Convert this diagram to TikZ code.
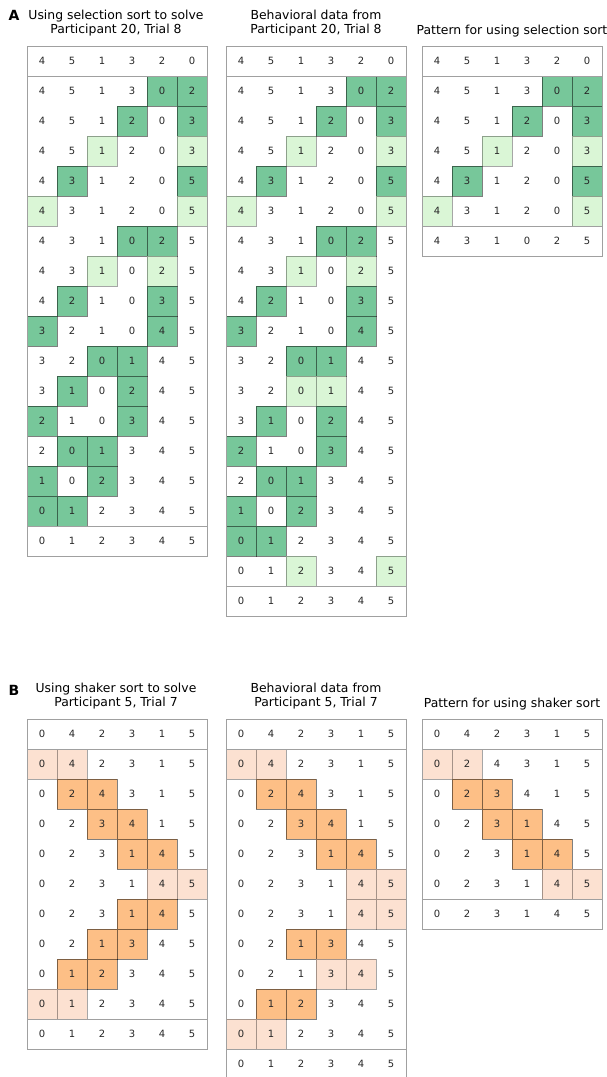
\documentclass[tikz,border=0pt]{standalone}
\usepackage{fontspec}
\setmainfont{DejaVu Sans}
\definecolor{grndark}{HTML}{77C79A}
\definecolor{grnlight}{HTML}{DAF6D6}
\definecolor{orgdark}{HTML}{FDBF86}
\definecolor{orglight}{HTML}{FCE1D1}
\definecolor{framegray}{HTML}{A0A0A0}

% one column of sorting steps: name, left x, top y, number of rows, rows
\newcommand{\sortgrid}[5]{%
  \foreach \row [count=\r from 0] in {#5} {
    \foreach \v/\k [count=\c from 0] in \row {
      \node[cell, \k, name=#1-\r-\c] at (#2+30*\c+15, #3+30*\r+15) {\v};
    }
  }
  \draw[frame] (#2,#3) rectangle (#2+180,#3+30*#4);
  \draw[frame] (#2,#3+30) -- (#2+180,#3+30);
  \draw[frame] (#2,#3+30*#4-30) -- (#2+180,#3+30*#4-30);
}

\begin{document}
\begin{tikzpicture}[
    x=1pt, y=-1pt,
    cell/.style={minimum width=30pt, minimum height=30pt, inner sep=0pt,
                 font=\fontsize{10}{12}\selectfont, text=black!85},
    wc/.style={},
    gd/.style={fill=grndark, draw=black, draw opacity=0.5, line width=0.8pt},
    gl/.style={fill=grnlight, draw=black, draw opacity=0.35, line width=0.8pt},
    od/.style={fill=orgdark, draw=black, draw opacity=0.5, line width=0.8pt},
    ol/.style={fill=orglight, draw=black, draw opacity=0.35, line width=0.8pt},
    frame/.style={draw=framegray, line width=0.9pt},
    title/.style={align=center, font=\fontsize{12.4}{14}\selectfont},
    panel/.style={font=\fontsize{14}{16}\selectfont\bfseries}
  ]
  \useasboundingbox (0,0) rectangle (607,1077);
  \clip (0,0) rectangle (607,1077);

  % A: selection sort
  \node[panel] (labA) at (14,15) {A};
  \node[title] (tsl) at (116,23) {Using selection sort to solve\\Participant 20, Trial 8};
  \node[title] (tbl) at (316,23) {Behavioral data from\\Participant 20, Trial 8};
  \node[title] (tpl) at (512,31) {Pattern for using selection sort};

  \sortgrid{sl}{27}{46}{17}{
    {4/wc,5/wc,1/wc,3/wc,2/wc,0/wc},
    {4/wc,5/wc,1/wc,3/wc,0/gd,2/gd},
    {4/wc,5/wc,1/wc,2/gd,0/wc,3/gd},
    {4/wc,5/wc,1/gl,2/wc,0/wc,3/gl},
    {4/wc,3/gd,1/wc,2/wc,0/wc,5/gd},
    {4/gl,3/wc,1/wc,2/wc,0/wc,5/gl},
    {4/wc,3/wc,1/wc,0/gd,2/gd,5/wc},
    {4/wc,3/wc,1/gl,0/wc,2/gl,5/wc},
    {4/wc,2/gd,1/wc,0/wc,3/gd,5/wc},
    {3/gd,2/wc,1/wc,0/wc,4/gd,5/wc},
    {3/wc,2/wc,0/gd,1/gd,4/wc,5/wc},
    {3/wc,1/gd,0/wc,2/gd,4/wc,5/wc},
    {2/gd,1/wc,0/wc,3/gd,4/wc,5/wc},
    {2/wc,0/gd,1/gd,3/wc,4/wc,5/wc},
    {1/gd,0/wc,2/gd,3/wc,4/wc,5/wc},
    {0/gd,1/gd,2/wc,3/wc,4/wc,5/wc},
    {0/wc,1/wc,2/wc,3/wc,4/wc,5/wc}}

  \sortgrid{bl}{226}{46}{19}{
    {4/wc,5/wc,1/wc,3/wc,2/wc,0/wc},
    {4/wc,5/wc,1/wc,3/wc,0/gd,2/gd},
    {4/wc,5/wc,1/wc,2/gd,0/wc,3/gd},
    {4/wc,5/wc,1/gl,2/wc,0/wc,3/gl},
    {4/wc,3/gd,1/wc,2/wc,0/wc,5/gd},
    {4/gl,3/wc,1/wc,2/wc,0/wc,5/gl},
    {4/wc,3/wc,1/wc,0/gd,2/gd,5/wc},
    {4/wc,3/wc,1/gl,0/wc,2/gl,5/wc},
    {4/wc,2/gd,1/wc,0/wc,3/gd,5/wc},
    {3/gd,2/wc,1/wc,0/wc,4/gd,5/wc},
    {3/wc,2/wc,0/gd,1/gd,4/wc,5/wc},
    {3/wc,2/wc,0/gl,1/gl,4/wc,5/wc},
    {3/wc,1/gd,0/wc,2/gd,4/wc,5/wc},
    {2/gd,1/wc,0/wc,3/gd,4/wc,5/wc},
    {2/wc,0/gd,1/gd,3/wc,4/wc,5/wc},
    {1/gd,0/wc,2/gd,3/wc,4/wc,5/wc},
    {0/gd,1/gd,2/wc,3/wc,4/wc,5/wc},
    {0/wc,1/wc,2/gl,3/wc,4/wc,5/gl},
    {0/wc,1/wc,2/wc,3/wc,4/wc,5/wc}}

  \sortgrid{pl}{422}{46}{7}{
    {4/wc,5/wc,1/wc,3/wc,2/wc,0/wc},
    {4/wc,5/wc,1/wc,3/wc,0/gd,2/gd},
    {4/wc,5/wc,1/wc,2/gd,0/wc,3/gd},
    {4/wc,5/wc,1/gl,2/wc,0/wc,3/gl},
    {4/wc,3/gd,1/wc,2/wc,0/wc,5/gd},
    {4/gl,3/wc,1/wc,2/wc,0/wc,5/gl},
    {4/wc,3/wc,1/wc,0/wc,2/wc,5/wc}}

  % B: shaker sort
  \node[panel] (labB) at (14,690) {B};
  \node[title] (tss) at (116,696) {Using shaker sort to solve\\Participant 5, Trial 7};
  \node[title] (tbs) at (316,696) {Behavioral data from\\Participant 5, Trial 7};
  \node[title] (tps) at (512,704) {Pattern for using shaker sort};

  \sortgrid{ss}{27}{719}{11}{
    {0/wc,4/wc,2/wc,3/wc,1/wc,5/wc},
    {0/ol,4/ol,2/wc,3/wc,1/wc,5/wc},
    {0/wc,2/od,4/od,3/wc,1/wc,5/wc},
    {0/wc,2/wc,3/od,4/od,1/wc,5/wc},
    {0/wc,2/wc,3/wc,1/od,4/od,5/wc},
    {0/wc,2/wc,3/wc,1/wc,4/ol,5/ol},
    {0/wc,2/wc,3/wc,1/od,4/od,5/wc},
    {0/wc,2/wc,1/od,3/od,4/wc,5/wc},
    {0/wc,1/od,2/od,3/wc,4/wc,5/wc},
    {0/ol,1/ol,2/wc,3/wc,4/wc,5/wc},
    {0/wc,1/wc,2/wc,3/wc,4/wc,5/wc}}

  \sortgrid{bs}{226}{719}{12}{
    {0/wc,4/wc,2/wc,3/wc,1/wc,5/wc},
    {0/ol,4/ol,2/wc,3/wc,1/wc,5/wc},
    {0/wc,2/od,4/od,3/wc,1/wc,5/wc},
    {0/wc,2/wc,3/od,4/od,1/wc,5/wc},
    {0/wc,2/wc,3/wc,1/od,4/od,5/wc},
    {0/wc,2/wc,3/wc,1/wc,4/ol,5/ol},
    {0/wc,2/wc,3/wc,1/wc,4/ol,5/ol},
    {0/wc,2/wc,1/od,3/od,4/wc,5/wc},
    {0/wc,2/wc,1/wc,3/ol,4/ol,5/wc},
    {0/wc,1/od,2/od,3/wc,4/wc,5/wc},
    {0/ol,1/ol,2/wc,3/wc,4/wc,5/wc},
    {0/wc,1/wc,2/wc,3/wc,4/wc,5/wc}}

  \sortgrid{ps}{422}{719}{7}{
    {0/wc,4/wc,2/wc,3/wc,1/wc,5/wc},
    {0/ol,2/ol,4/wc,3/wc,1/wc,5/wc},
    {0/wc,2/od,3/od,4/wc,1/wc,5/wc},
    {0/wc,2/wc,3/od,1/od,4/wc,5/wc},
    {0/wc,2/wc,3/wc,1/od,4/od,5/wc},
    {0/wc,2/wc,3/wc,1/wc,4/ol,5/ol},
    {0/wc,2/wc,3/wc,1/wc,4/wc,5/wc}}
\end{tikzpicture}
\end{document}
